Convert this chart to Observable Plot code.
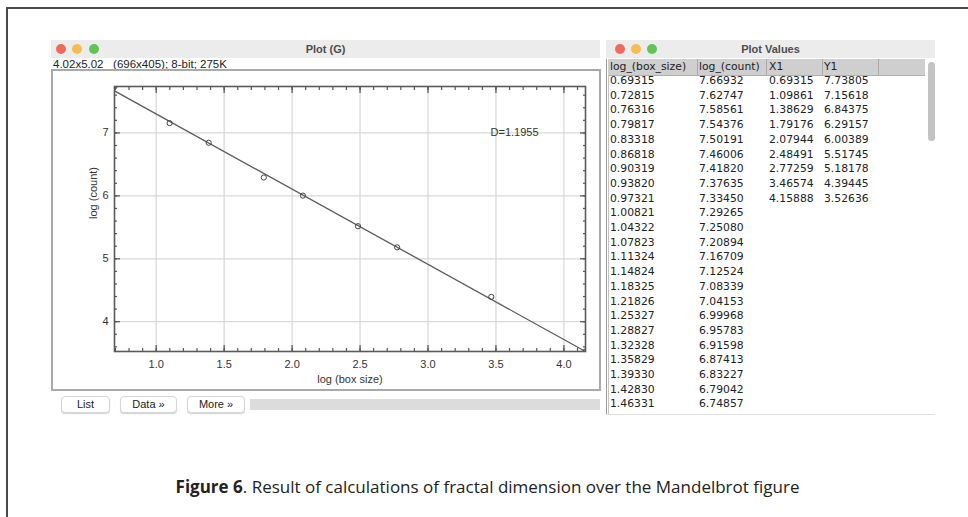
<!DOCTYPE html>
<html>
<head>
<meta charset="utf-8">
<script src="https://cdn.jsdelivr.net/npm/d3@7"></script>
<script src="https://cdn.jsdelivr.net/npm/@observablehq/plot@0.6"></script>
<style>
  html, body { margin: 0; padding: 0; background: #fff; }
  #page { position: relative; width: 968px; height: 517px; overflow: hidden; font-family: "Liberation Sans", Arial, sans-serif; }
  .abs { position: absolute; }
  .outer { left: 6px; top: 7px; width: 1000px; height: 600px; border-top: 2px solid #4a4a4a; border-left: 2px solid #4a4a4a; }
  .titlebar { background: #ececec; height: 18px; top: 40px; }
  .light { width: 10px; height: 10px; border-radius: 50%; top: 44px; }
  .ttl { top: 40px; height: 18px; line-height: 18px; text-align: center; font-size: 11px; color: #4d4d4d; font-weight: bold; }
  .info { left: 53px; top: 58px; font-size: 11.5px; color: #222; line-height: 13px; white-space: pre; }
  .canvas { left: 51px; top: 69px; width: 546px; height: 318px; border: 2px solid #a9a9a9; background: #fff; }
  .btn { top: 396px; height: 15px; line-height: 15px; background: #fff; border: 1px solid #d6d6d6; border-radius: 4px; box-shadow: 0 1px 1px rgba(0,0,0,0.18); font-size: 11px; color: #222; text-align: center; }
  .bar { left: 250px; top: 399px; width: 350px; height: 11px; background: #dcdcdc; }
  .hdr { left: 608px; top: 59px; width: 317px; height: 16px; background: #cfcfcf; border-bottom: 1px solid #b0b0b0; }
  .hcell { top: 59px; height: 16px; line-height: 16px; font-family: "DejaVu Sans", sans-serif; font-size: 10.8px; color: #222; }
  .sep { top: 59px; width: 1px; height: 16px; background: #a8a8a8; }
  .col { top: 74px; font-family: "DejaVu Sans", sans-serif; font-size: 10.8px; line-height: 14.7px; color: #222; white-space: pre; }
  .vline { width: 1px; background: #9a9a9a; }
  .scroll { left: 928px; top: 62px; width: 7px; height: 79px; border-radius: 4px; background: #c3c3c3; }
  .caption { left: 7px; width: 961px; top: 475px; text-align: center; font-family: "Open Sans", sans-serif; font-size: 17px; color: #222; }
</style>
</head>
<body>
<div id="page">
  <div class="abs outer"></div>

  <!-- Plot window -->
  <div class="abs titlebar" style="left:51px;width:549px;"></div>
  <div class="abs light" style="left:56px;background:#ee6a5f;"></div>
  <div class="abs light" style="left:72px;background:#f5bd4f;"></div>
  <div class="abs light" style="left:89px;background:#61c454;"></div>
  <div class="abs ttl" style="left:51px;width:549px;">Plot (G)</div>
  <div class="abs info">4.02x5.02   (696x405); 8-bit; 275K</div>
  <div class="abs canvas" id="canvas"></div>
  <div class="abs btn" style="left:61px;width:47px;">List</div>
  <div class="abs btn" style="left:120px;width:55px;">Data »</div>
  <div class="abs btn" style="left:187px;width:56px;">More »</div>
  <div class="abs bar"></div>

  <!-- Table window -->
  <div class="abs titlebar" style="left:606px;width:329px;"></div>
  <div class="abs light" style="left:615px;background:#ee6a5f;"></div>
  <div class="abs light" style="left:631px;background:#f5bd4f;"></div>
  <div class="abs light" style="left:647px;background:#61c454;"></div>
  <div class="abs ttl" style="left:606px;width:329px;">Plot Values</div>
  <div class="abs hdr"></div>
  <div id="table"></div>
  <div class="abs vline" style="left:606px;top:59px;height:356px;"></div>
  <div class="abs vline" style="left:608px;top:75px;height:340px;background:#c4c4c4;"></div>
  <div class="abs scroll"></div>
  <div class="abs" style="left:606px;top:414px;width:329px;height:1px;background:#e2e2e2;"></div>

  <div class="abs caption"><b>Figure 6</b>. Result of calculations of fractal dimension over the Mandelbrot figure</div>
</div>
<script>
// Data points (X1, Y1)
const X1 = [0.69315, 1.09861, 1.38629, 1.79176, 2.07944, 2.48491, 2.77259, 3.46574, 4.15888];
const Y1 = [7.73805, 7.15618, 6.84375, 6.29157, 6.00389, 5.51745, 5.18178, 4.39445, 3.52636];
// Fit table values (visible rows)
const boxSize = [0.69315, 0.72815, 0.76316, 0.79817, 0.83318, 0.86818, 0.90319, 0.93820, 0.97321, 1.00821, 1.04322, 1.07823, 1.11324, 1.14824, 1.18325, 1.21826, 1.25327, 1.28827, 1.32328, 1.35829, 1.39330, 1.42830, 1.46331];
const logCount = [7.66932, 7.62747, 7.58561, 7.54376, 7.50191, 7.46006, 7.41820, 7.37635, 7.33450, 7.29265, 7.25080, 7.20894, 7.16709, 7.12524, 7.08339, 7.04153, 6.99968, 6.95783, 6.91598, 6.87413, 6.83227, 6.79042, 6.74857];
const tableHeaders = ["log_(box_size)", "log_(count)", "X1", "Y1"];
// Ticks
const xMajor = [1.0, 1.5, 2.0, 2.5, 3.0, 3.5, 4.0];
const xTickLabels = ["1.0", "1.5", "2.0", "2.5", "3.0", "3.5", "4.0"];
const yMajor = [4, 5, 6, 7];
const yTickLabels = ["4", "5", "6", "7"];
const xLabel = "log (box size)";
const yLabel = "log (count)";
const dimension = [{x: 3.46, y: 7.0, text: "D=1.1955"}];

const points = X1.map((x, i) => ({x, y: Y1[i]}));
const xMinor = d3.range(7, 42).map(i => i / 10);
const yMinor = d3.range(18, 39).map(i => i / 5);

const ink = "#555";
const tickAxis = (fn, ticks, anchor, size) => fn(ticks, {anchor, tickSize: size, tickFormat: () => "", stroke: ink, strokeWidth: 1.2, label: null});

const chart = Plot.plot({
  width: 546,
  height: 318,
  marginLeft: 61,
  marginRight: 14,
  marginTop: 15,
  marginBottom: 38,
  style: {background: "transparent", fontFamily: "Liberation Sans, Arial, sans-serif", fontSize: "11px", color: "#333"},
  x: {domain: d3.extent(X1)},
  y: {domain: d3.extent(Y1)},
  marks: [
    Plot.gridX(xMajor, {stroke: "#d9d9d9", strokeOpacity: 1, strokeWidth: 1.3}),
    Plot.gridY(yMajor, {stroke: "#d9d9d9", strokeOpacity: 1, strokeWidth: 1.3}),
    Plot.linearRegressionY(points, {x: "x", y: "y", ci: 0, stroke: "#5a5a5a", strokeWidth: 1.3}),
    Plot.dot(points, {x: "x", y: "y", r: 2.6, stroke: "#444", strokeWidth: 1, fill: "none", clip: true}),
    Plot.frame({stroke: "#5a5a5a", strokeWidth: 1.6}),
    tickAxis(Plot.axisX, xMajor, "bottom", -6),
    tickAxis(Plot.axisX, xMinor, "bottom", -3),
    tickAxis(Plot.axisX, xMajor, "top", -6),
    tickAxis(Plot.axisX, xMinor, "top", -3),
    tickAxis(Plot.axisY, yMajor, "left", -6),
    tickAxis(Plot.axisY, yMinor, "left", -3),
    tickAxis(Plot.axisY, yMajor, "right", -6),
    tickAxis(Plot.axisY, yMinor, "right", -3),
    Plot.axisX(xMajor, {anchor: "bottom", tickSize: 0, tickPadding: 9, tickFormat: (d) => xTickLabels[xMajor.indexOf(d)], fill: "#333", label: null}),
    Plot.axisY(yMajor, {anchor: "left", tickSize: 0, tickPadding: 6, tickFormat: (d) => yTickLabels[yMajor.indexOf(d)], fill: "#333", label: null}),
    Plot.text([xLabel], {frameAnchor: "bottom", dy: 28, lineAnchor: "middle", fill: "#333", fontSize: 11}),
    Plot.text([yLabel], {frameAnchor: "left", dx: -21, rotate: -90, lineAnchor: "middle", fill: "#333", fontSize: 11}),
    Plot.text(dimension, {x: "x", y: "y", text: "text", textAnchor: "start", lineAnchor: "middle", fill: "#333", fontSize: 11})
  ]
});
document.getElementById("canvas").appendChild(chart);

// Table
const page = document.getElementById("page");
const colLeft = [610, 699, 769, 824];
const sepLeft = [697, 766, 822, 878];
tableHeaders.forEach((h, i) => {
  const d = document.createElement("div");
  d.className = "abs hcell"; d.style.left = colLeft[i] + "px"; d.textContent = h;
  page.appendChild(d);
});
sepLeft.forEach(x => {
  const s = document.createElement("div");
  s.className = "abs sep"; s.style.left = x + "px";
  page.appendChild(s);
});
const cols = [boxSize, logCount, X1, Y1];
cols.forEach((arr, i) => {
  const d = document.createElement("div");
  d.className = "abs col"; d.style.left = colLeft[i] + "px";
  d.textContent = arr.map(v => v.toFixed(5)).join("\n");
  page.appendChild(d);
});
</script>
</body>
</html>
